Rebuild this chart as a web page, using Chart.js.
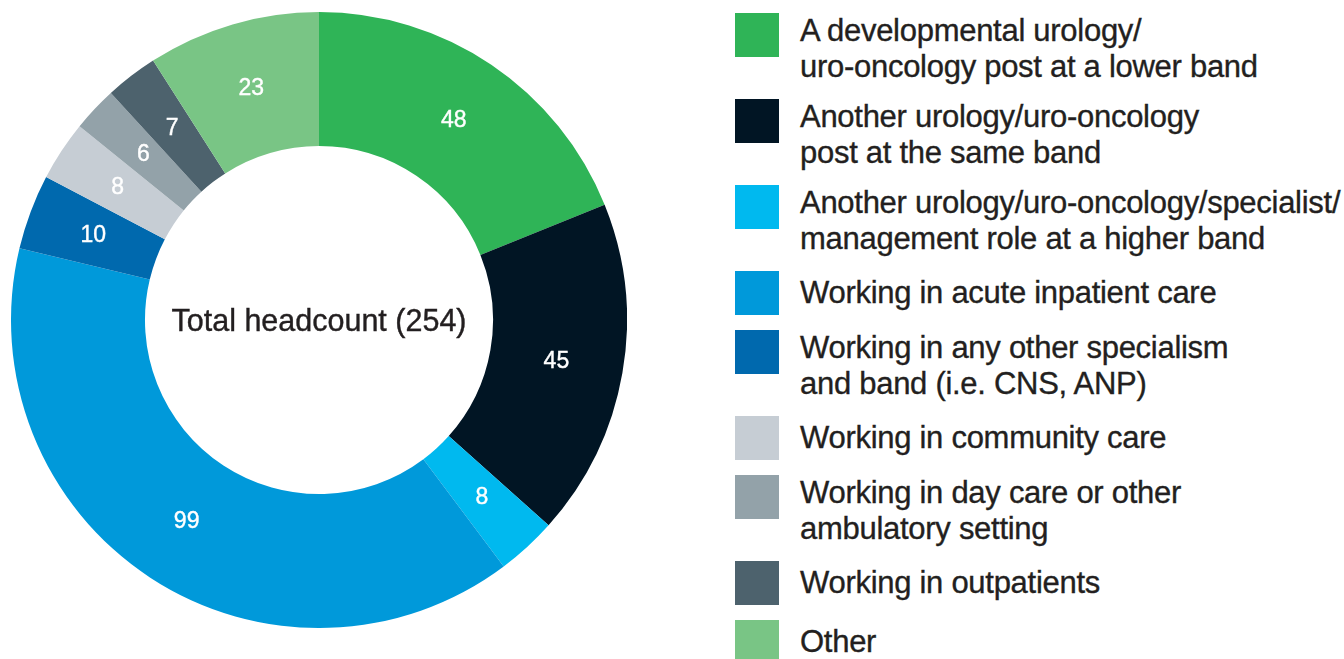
<!DOCTYPE html>
<html>
<head>
<meta charset="utf-8">
<script src="https://cdn.jsdelivr.net/npm/chart.js@4/dist/chart.umd.min.js"></script>
<style>
  html, body { margin: 0; padding: 0; background: #fff; }
  body { width: 1344px; height: 659px; position: relative; overflow: hidden; font-family: "Liberation Sans", Arial, sans-serif; }
  #wrap { position: absolute; left: 11px; top: 12px; width: 616px; height: 616px; }
  #legend { position: absolute; left: 735px; top: 13px; width: 609px; }
  .item { position: relative; margin-bottom: 15px; }
  .sw { position: absolute; left: 0; top: 0; width: 44px; height: 44px; }
  .txt { position: absolute; left: 65px; top: 0; white-space: nowrap; color: #231f20; font-size: 31px; letter-spacing: -0.28px; -webkit-text-stroke: 0.35px #231f20; }
</style>
</head>
<body>
<div id="wrap"><canvas id="c"></canvas></div>
<div id="legend"></div>
<script>
const categories = [
  ["A developmental urology/", "uro-oncology post at a lower band"],
  ["Another urology/uro-oncology", "post at the same band"],
  ["Another urology/uro-oncology/specialist/", "management role at a higher band"],
  ["Working in acute inpatient care"],
  ["Working in any other specialism", "and band (i.e. CNS, ANP)"],
  ["Working in community care"],
  ["Working in day care or other", "ambulatory setting"],
  ["Working in outpatients"],
  ["Other"]
];
const headcount = [48, 45, 8, 99, 10, 8, 6, 7, 23];
const colors = ["#2fb457", "#011524", "#00b9ef", "#0099da", "#0069ae", "#c6cdd4", "#93a2a9", "#4d626d", "#79c585"];
const centerLabel = "Total headcount (254)";

// HTML legend built from the arrays
const legend = document.getElementById('legend');
categories.forEach((lines, i) => {
  const it = document.createElement('div');
  it.className = 'item';
  const h = lines.length > 1 ? 71 : 44;
  it.style.height = h + 'px';
  const sw = document.createElement('div');
  sw.className = 'sw';
  sw.style.background = colors[i];
  const tx = document.createElement('div');
  tx.className = 'txt';
  tx.style.lineHeight = (lines.length > 1 ? 35.5 : 44) + 'px';
  tx.innerHTML = lines.join('<br>');
  it.appendChild(sw);
  it.appendChild(tx);
  legend.appendChild(it);
});

const valueLabels = {
  id: 'valueLabels',
  afterDatasetsDraw(chart) {
    const ctx = chart.ctx;
    const meta = chart.getDatasetMeta(0);
    ctx.save();
    ctx.fillStyle = '#ffffff';
    ctx.strokeStyle = '#ffffff';
    ctx.lineWidth = 0.4;
    ctx.font = '23px "Liberation Sans", Arial, sans-serif';
    ctx.textAlign = 'center';
    ctx.textBaseline = 'middle';
    meta.data.forEach((arc, i) => {
      const p = arc.tooltipPosition();
      const t = String(chart.data.datasets[0].data[i]);
      ctx.fillText(t, p.x, p.y);
      ctx.strokeText(t, p.x, p.y);
    });
    const a = meta.data[0];
    ctx.fillStyle = '#231f20';
    ctx.strokeStyle = '#231f20';
    ctx.font = '30.5px "Liberation Sans", Arial, sans-serif';
    ctx.fillText(centerLabel, a.x, a.y + 3);
    ctx.strokeText(centerLabel, a.x, a.y + 3);
    ctx.restore();
  }
};

new Chart(document.getElementById('c'), {
  type: 'doughnut',
  data: {
    labels: categories.map(l => l.join(' ')),
    datasets: [{
      data: headcount,
      backgroundColor: colors,
      borderWidth: 0,
      hoverOffset: 0,
      offset: 0
    }]
  },
  options: {
    responsive: true,
    maintainAspectRatio: false,
    animation: false,
    cutout: '56.5%',
    layout: { padding: 0 },
    plugins: { legend: { display: false }, tooltip: { enabled: false } }
  },
  plugins: [valueLabels]
});
</script>
</body>
</html>
